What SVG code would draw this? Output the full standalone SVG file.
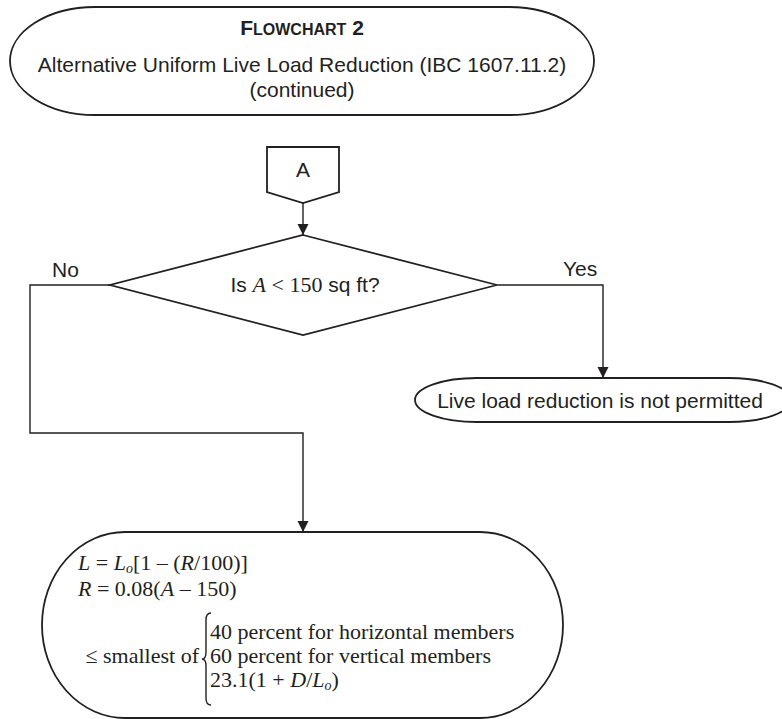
<svg xmlns="http://www.w3.org/2000/svg" width="782" height="719" viewBox="0 0 782 719">
<defs>
<marker id="arr" markerUnits="userSpaceOnUse" markerWidth="12" markerHeight="12" viewBox="0 0 12 12" refX="11" refY="6" orient="auto">
<path d="M0,0.5 L11,6 L0,11.5 Z" fill="#231f20"/>
</marker>
<style>
.shape{fill:#fff;stroke:#231f20;stroke-width:1.8}
.conn{fill:none;stroke:#231f20;stroke-width:1.4}
.sans{font-family:"Liberation Sans",Arial,sans-serif;font-size:21px;fill:#231f20}
.serif{font-family:"Liberation Serif","Times New Roman",serif;font-size:22px;fill:#231f20}
.it{font-style:italic}
.sub{font-size:14px}
</style>
</defs>
<rect width="782" height="719" fill="#fff"/>
<g id="title">
<path class="shape" d="M95,7 H509 A85 54 0 0 1 509,115 H95 A85 54 0 0 1 95,7 Z"/>
<text class="sans" x="302" y="35" text-anchor="middle" font-weight="bold" font-size="20"><tspan>F</tspan><tspan font-size="16">LOWCHART</tspan> 2</text>
<text class="sans" x="302" y="72" text-anchor="middle">Alternative Uniform Live Load Reduction (IBC 1607.11.2)</text>
<text class="sans" x="302" y="97" text-anchor="middle">(continued)</text>
</g>
<g id="connector-A">
<path class="shape" d="M267,147 H339 V192 L303,203 L267,192 Z"/>
<text class="sans" x="303" y="177" text-anchor="middle" font-size="23">A</text>
</g>
<g id="decision">
<path class="shape" d="M303,235 L497,285 L303,335 L110,285 Z"/>
<text class="sans" x="305" y="292" text-anchor="middle">Is <tspan class="serif it" font-size="22">A</tspan><tspan class="serif" font-size="22"> &lt; 150</tspan> sq ft?</text>
</g>
<g id="not-permitted">
<path class="shape" d="M477,378 H729 A62 22 0 0 1 729,422 H477 A62 22 0 0 1 477,378 Z"/>
<text class="sans" x="600" y="408" text-anchor="middle">Live load reduction is not permitted</text>
</g>
<g id="formula">
<path class="shape" d="M125,532 H480 A83 93 0 0 1 480,718 H125 A83 93 0 0 1 125,532 Z"/>
<text class="serif" x="78" y="570"><tspan class="it">L</tspan> = <tspan class="it">L</tspan><tspan class="it sub" dy="3">o</tspan><tspan dy="-3">[1 – (</tspan><tspan class="it">R</tspan>/100)]</text>
<text class="serif" x="78" y="596"><tspan class="it">R</tspan> = 0.08(<tspan class="it">A</tspan> – 150)</text>
<text class="serif" x="199" y="663" text-anchor="end">≤ smallest of</text>
<path class="conn" stroke-width="1.3" d="M211,613 Q206,613 206,620 L206,652 Q206,659 202,659 Q206,659 206,666 L206,698 Q206,705 211,705"/>
<text class="serif" x="210" y="639">40 percent for horizontal members</text>
<text class="serif" x="210" y="663">60 percent for vertical members</text>
<text class="serif" x="210" y="687">23.1(1 + <tspan class="it">D</tspan>/<tspan class="it">L</tspan><tspan class="it sub" dy="3">o</tspan><tspan dy="-3">)</tspan></text>
</g>
<g id="connectors">
<line class="conn" x1="303" y1="203" x2="303" y2="235" marker-end="url(#arr)"/>
<polyline class="conn" points="497,285 603,285 603,378" marker-end="url(#arr)"/>
<polyline class="conn" points="110,285 30,285 30,433 303,433 303,532" marker-end="url(#arr)"/>
<text class="sans" x="563" y="276">Yes</text>
<text class="sans" x="52" y="277">No</text>
</g>
</svg>
